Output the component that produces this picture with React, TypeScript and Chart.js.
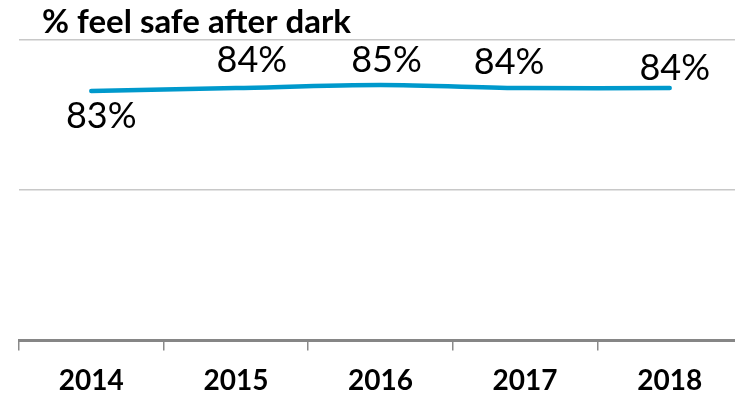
import React, { useEffect, useRef } from "react";
import { Chart, registerables } from "chart.js";

Chart.register(...registerables);

const TITLE = "% feel safe after dark";
const years = ["2014", "2015", "2016", "2017", "2018"];
const safeAfterDark = [83, 84, 85, 84, 84];
const valueLabels = ["83%", "84%", "85%", "84%", "84%"];
// label offsets relative to each point (dx, dy of text centre)
const labelDx = [10, 16, 6, -16, 5];
const labelDy = [25, -28, -25, -26, -20];

const FONT = "Lato, 'Open Sans', sans-serif";

const overlayPlugin = {
  id: "overlay",
  afterDatasetsDraw(chart: any) {
    const ctx = chart.ctx;
    ctx.save();
    // title
    ctx.fillStyle = "#000";
    ctx.font = `bold 33px ${FONT}`;
    ctx.textAlign = "left";
    ctx.textBaseline = "alphabetic";
    ctx.fillText(TITLE, 42, 33);
    // value labels
    const meta = chart.getDatasetMeta(0);
    ctx.font = `36px ${FONT}`;
    ctx.textAlign = "center";
    ctx.textBaseline = "middle";
    meta.data.forEach((pt: any, i: number) => {
      ctx.fillText(valueLabels[i], pt.x + labelDx[i], pt.y + labelDy[i]);
    });
    ctx.restore();
  },
};

export default function App() {
  const ref = useRef<HTMLCanvasElement | null>(null);
  useEffect(() => {
    if (!ref.current) return;
    const chart = new Chart(ref.current, {
      type: "line",
      data: {
        labels: years,
        datasets: [
          {
            data: safeAfterDark,
            borderColor: "#0099CC",
            borderWidth: 4.5,
            borderCapStyle: "round",
            pointRadius: 0,
            tension: 0.3,
            fill: false,
          },
        ],
      },
      options: {
        animation: false,
        responsive: false,
        maintainAspectRatio: false,
        layout: { padding: { left: 19, right: 18, top: 40, bottom: 0 } },
        plugins: {
          legend: { display: false },
          tooltip: { enabled: false },
          title: { display: false },
        },
        scales: {
          x: {
            offset: true,
            grid: {
              offset: true,
              drawOnChartArea: false,
              drawTicks: true,
              tickLength: 10,
              color: "#8a8a8a",
              lineWidth: 1.5,
            },
            border: { display: true, color: "#868686", width: 3 },
            ticks: {
              color: "#000",
              font: { family: FONT, size: 28, weight: "bold" },
              padding: 14,
            },
          },
          y: {
            min: 0,
            max: 100,
            ticks: { display: false, stepSize: 50 },
            grid: { color: "#c8c8c8", lineWidth: 1.5, drawTicks: false },
            border: { display: false },
          },
        },
      },
      plugins: [overlayPlugin],
    });
    return () => chart.destroy();
  }, []);
  return (
    <div
      style={{
        position: "absolute",
        left: 0,
        top: 0,
        width: 735,
        height: 395,
        overflow: "hidden",
        background: "#fff",
      }}
    >
      <canvas ref={ref} width={760} height={412} style={{ width: 760, height: 412 }} />
    </div>
  );
}
